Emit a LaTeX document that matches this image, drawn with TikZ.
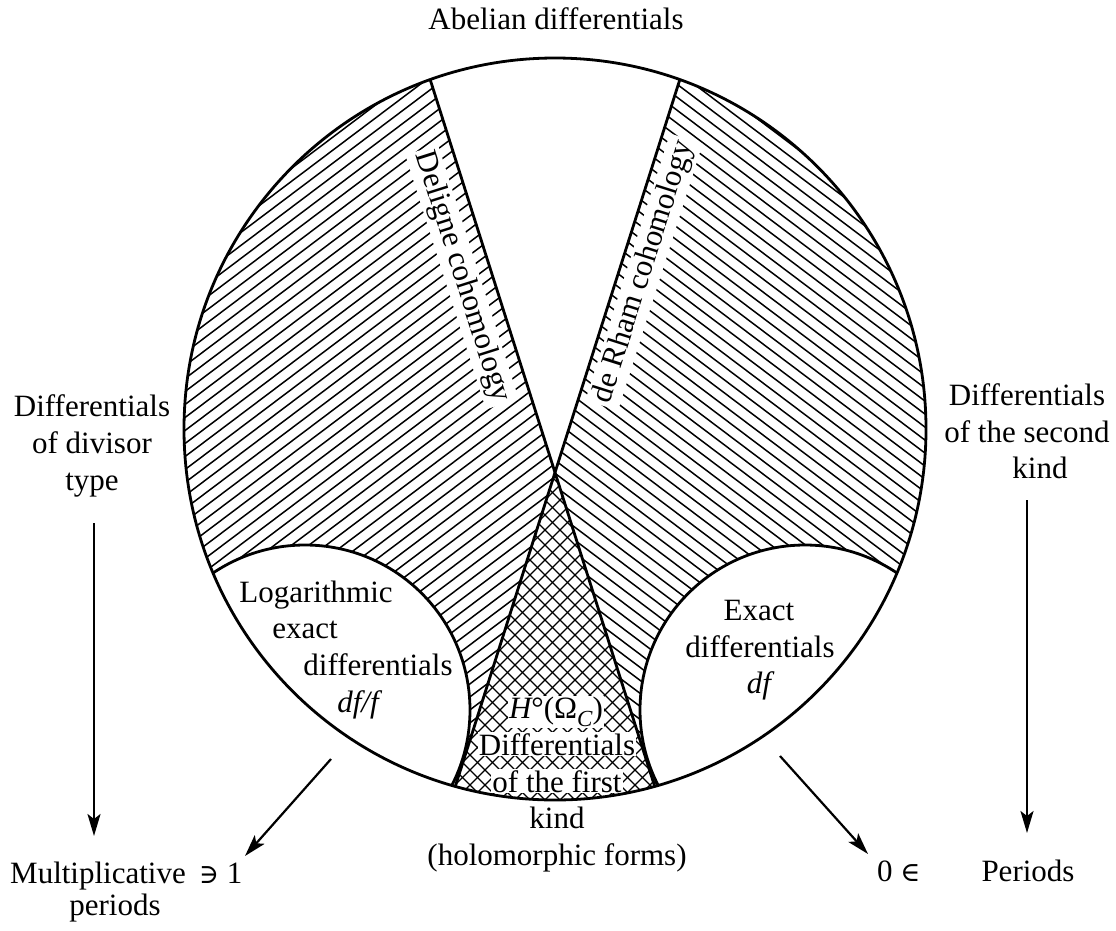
\documentclass[tikz,border=0pt]{standalone}
\usepackage{fontspec}
\setmainfont{Liberation Serif}
\newfontfamily\symf{DejaVu Serif}
\usetikzlibrary{arrows.meta}
\newcommand\lblfont{\fontsize{31}{36}\selectfont}
\begin{document}
\begin{tikzpicture}[x=1pt,y=-1pt,
  hatch/.style={line width=1.5pt},
  border/.style={line width=2.8pt},
  arr/.style={line width=2.2pt,-{Stealth[length=22pt,width=13pt,inset=5pt]}},
  lbl/.style={inner sep=0pt,font=\lblfont},
  wlbl/.style={lbl,fill=white,inner sep=1pt},
  rlbl/.style={lbl,fill=white,inner sep=3pt}]
\useasboundingbox (0,0) rectangle (1116,930);
% key points
\coordinate (O) at (555,429);
\coordinate (V) at (555,473);
\coordinate (TL) at (430.3,80);
\coordinate (TR) at (679.7,80);
\coordinate (BL) at (455.3,786.3);
\coordinate (BR) at (654.7,786.3);
\coordinate (LL) at (305,710);
\coordinate (RL) at (805,710);
% hatched regions
\begin{scope}
  \clip (O) circle[radius=371];
  \begin{scope}
    \clip (404.6,0) -- (V) -- (419.2,900) -- (0,900) -- (0,0) -- cycle;
    \foreach \c in {180,193,...,1240} \draw[hatch] (100,\c-75.4) -- (700,\c-527.5);
  \end{scope}
  \begin{scope}
    \clip (705.4,0) -- (V) -- (690.8,900) -- (1116,900) -- (1116,0) -- cycle;
    \foreach \c in {-660,-647,...,400} \draw[hatch] (500,\c+376.8) -- (1000,\c+753.6);
  \end{scope}
  \begin{scope}
    \clip (V) -- (419.2,900) -- (690.8,900) -- cycle;
    \foreach \c in {880,895,...,1510} \draw[hatch,line width=1.3pt] (400,\c-400) -- (720,\c-720);
    \foreach \c in {-240,-225,...,400} \draw[hatch,line width=1.3pt] (400,\c+400) -- (720,\c+720);
  \end{scope}
\end{scope}
% rotated labels
\node[rlbl,rotate=-72.4] (deligne) at (462,277) {Deligne cohomology};
\node[rlbl,rotate=72.4] (derham) at (644,272) {de Rham cohomology};
% crosshatch labels
\node[wlbl,anchor=base] (h0) at (556,718) {\itshape H\upshape°(Ω\raisebox{-0.28em}{\fontsize{23}{23}\selectfont\itshape C})};
\node[wlbl,anchor=base] (dfk) at (557,755) {Differentials};
\node[wlbl,anchor=base] (oft) at (557,792) {of the first};
% lenses
\begin{scope}
  \clip (O) circle[radius=371];
  \draw[border,fill=white] (LL) circle[radius=165];
  \draw[border,fill=white] (RL) circle[radius=165];
\end{scope}
% X lines and circle
\draw[border] (TL) -- (BR);
\draw[border] (TR) -- (BL);
\draw[border] (O) circle[radius=371];
% lens texts
\node[lbl,anchor=base] (log1) at (316,602) {Logarithmic};
\node[lbl,anchor=base] (log2) at (305,638) {exact};
\node[lbl,anchor=base] (log3) at (378,675) {differentials};
\node[lbl,anchor=base] (log4) at (358,712) {\itshape df/f};
\node[lbl,anchor=base] (ex1) at (759,620) {Exact};
\node[lbl,anchor=base] (ex2) at (760,657) {differentials};
\node[lbl,anchor=base] (ex3) at (759,693) {\itshape df};
% bottom labels
\node[lbl,anchor=base] (kind) at (557,828) {kind};
\node[lbl,anchor=base] (holo) at (557,865) {(holomorphic forms)};
% top
\node[lbl,anchor=base] (abel) at (556,29) {Abelian differentials};
% left side
\node[lbl,anchor=base] (dv1) at (92,416) {Differentials};
\node[lbl,anchor=base] (dv2) at (92,453) {of divisor};
\node[lbl,anchor=base] (dv3) at (92,490) {type};
\node[lbl,anchor=base west] (mult) at (10,883) {Multiplicative};
\node[lbl,anchor=base west] (ni) at (199,883) {{\symf\fontsize{27}{30}\selectfont ∋} 1};
\node[lbl,anchor=base] (mper) at (115,915) {periods};
% right side
\node[lbl,anchor=base] (sk1) at (1027,405) {Differentials};
\node[lbl,anchor=base] (sk2) at (1027,442) {of the second};
\node[lbl,anchor=base] (sk3) at (1040,478) {kind};
\node[lbl,anchor=base west] (zero) at (877,881) {0 {\symf\fontsize{27}{30}\selectfont ∈}};
\node[lbl,anchor=base] (per) at (1028,881) {Periods};
% arrows
\coordinate (a1s) at (94,523);
\coordinate (a1e) at (94,836);
\coordinate (a2s) at (331,759);
\coordinate (a2e) at (245,856);
\coordinate (a3s) at (780,756);
\coordinate (a3e) at (868,854);
\coordinate (a4s) at (1027,500);
\coordinate (a4e) at (1027,833);
\draw[arr] (a1s) -- (a1e);
\draw[arr] (a2s) -- (a2e);
\draw[arr] (a3s) -- (a3e);
\draw[arr] (a4s) -- (a4e);
\end{tikzpicture}
\end{document}
